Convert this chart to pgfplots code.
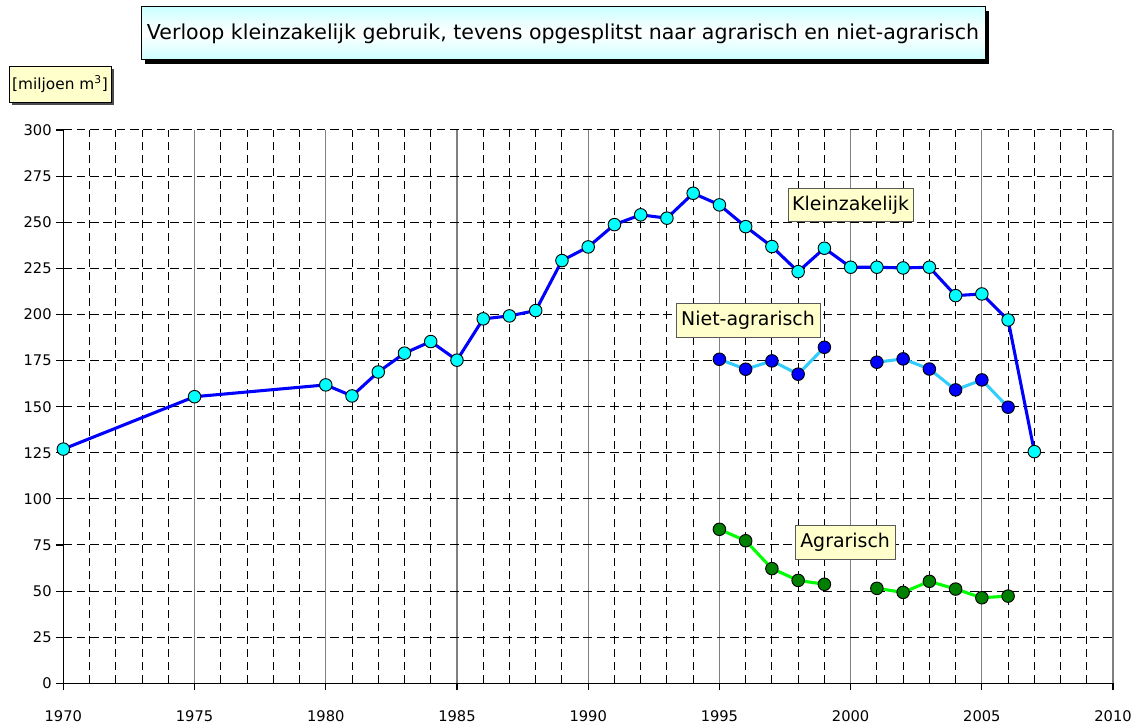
\documentclass[border=0pt]{standalone}
\usepackage{pgfplots}
\pgfplotsset{compat=1.18}
\usepackage{fontspec}
\setmainfont{DejaVu Sans}
\usetikzlibrary{shadows}
\definecolor{lcyan}{RGB}{204,255,255}
\definecolor{lyel}{RGB}{255,255,204}
\definecolor{skyl}{RGB}{51,204,255}
\definecolor{dgreen}{RGB}{0,128,0}
\definecolor{mcyan}{RGB}{0,255,255}
\definecolor{mblue}{RGB}{0,0,255}
\definecolor{lgreen}{RGB}{0,255,0}
\pgfplotstableread{
year val
1970 127
1975 155.4
1980 161.8
1981 155.8
1982 168.8
1983 179.0
1984 185.3
1985 175.2
1986 197.6
1987 199.2
1988 202.1
1989 229.2
1990 236.6
1991 248.7
1992 254.0
1993 252.2
1994 265.7
1995 259.4
1996 247.6
1997 236.8
1998 223.2
1999 235.9
2000 225.6
2001 225.6
2002 225.2
2003 225.6
2004 210.2
2005 211.1
2006 197.0
2007 125.6
}\klein
\pgfplotstableread{
year val
1995 175.7
1996 170.3
1997 174.8
1998 167.6
1999 182.2
2000 nan
2001 174.1
2002 175.9
2003 170.4
2004 159.1
2005 164.5
2006 149.7
}\niet
\pgfplotstableread{
year val
1995 83.5
1996 77.3
1997 62.2
1998 55.8
1999 53.7
2000 nan
2001 51.5
2002 49.3
2003 55.3
2004 51.1
2005 46.4
2006 47.3
}\agr
\begin{document}
\begin{tikzpicture}
\useasboundingbox (0,0) rectangle (853.5pt,543pt);
\begin{axis}[
  at={(47.5pt,30.5pt)}, anchor=south west,
  scale only axis, width=787.3pt, height=415pt,
  xmin=1970, xmax=2010, ymin=0, ymax=300,
  axis lines*=left,
  axis line style={black, line width=0.9pt},
  xtick={1970,1975,...,2010},
  minor x tick num=4,
  ytick={0,25,...,300},
  xmajorgrids, xminorgrids, ymajorgrids,
  major x grid style={gray, solid, line width=0.9pt},
  minor x grid style={black, line width=0.75pt, dash pattern=on 6pt off 3.75pt},
  major y grid style={black, line width=0.75pt, dash pattern=on 6.5pt off 3.5pt},
  tick align=outside,
  major tick length=5.25pt,
  minor tick length=0pt,
  tick style={black, line width=0.9pt},
  /pgf/number format/assume math mode=true,
  /pgf/number format/1000 sep={},
  ticklabel style={font=\fontsize{11}{13}\selectfont},
  xticklabel style={yshift=-12pt},
  unbounded coords=jump,
  clip=false,
]
\addplot[mblue, line width=2.3pt, mark=*, mark size=4.7pt,
  mark options={fill=mcyan, draw=black, line width=0.7pt}] table[x=year,y=val] {\klein};
\addplot[skyl, line width=2.3pt, mark=*, mark size=4.7pt,
  mark options={fill=mblue, draw=black, line width=0.7pt}] table[x=year,y=val] {\niet};
\addplot[lgreen, line width=2.3pt, mark=*, mark size=4.7pt,
  mark options={fill=dgreen, draw=black, line width=0.7pt}] table[x=year,y=val] {\agr};
\node[fill=lyel, draw=gray!70!black, line width=0.7pt, minimum width=93.75pt, minimum height=24.75pt, inner sep=0pt, font=\fontsize{14.2}{16}\selectfont] at (axis cs:2000,259.1) {Kleinzakelijk};
\node[fill=lyel, draw=gray!70!black, line width=0.7pt, minimum width=108pt, minimum height=25.5pt, inner sep=0pt, font=\fontsize{14.2}{16}\selectfont] at (axis cs:1996.09,197.0) {Niet-agrarisch};
\node[fill=lyel, draw=gray!70!black, line width=0.7pt, minimum width=75pt, minimum height=25.5pt, inner sep=0pt, font=\fontsize{14.2}{16}\selectfont] at (axis cs:1999.79,76.6) {Agrarisch};
\end{axis}
\node[draw=black, line width=0.7pt, top color=lcyan, bottom color=lcyan, middle color=white,
  drop shadow={shadow xshift=3pt, shadow yshift=-3pt, fill=black, opacity=1},
  minimum width=633pt, minimum height=39.75pt, inner sep=0pt,
  font=\fontsize{15.4}{18}\selectfont] at (422.25pt,517.9pt) {Verloop kleinzakelijk gebruik, tevens opgesplitst naar agrarisch en niet-agrarisch};
\node[draw=black, line width=0.7pt, fill=lyel,
  drop shadow={shadow xshift=2pt, shadow yshift=-2pt, fill=black!70, opacity=1},
  minimum width=76.5pt, minimum height=27pt, inner sep=0pt,
  font=\fontsize{11.5}{13}\selectfont] at (45pt,480pt) {[miljoen m\textsuperscript{3}]};
\end{tikzpicture}
\end{document}
